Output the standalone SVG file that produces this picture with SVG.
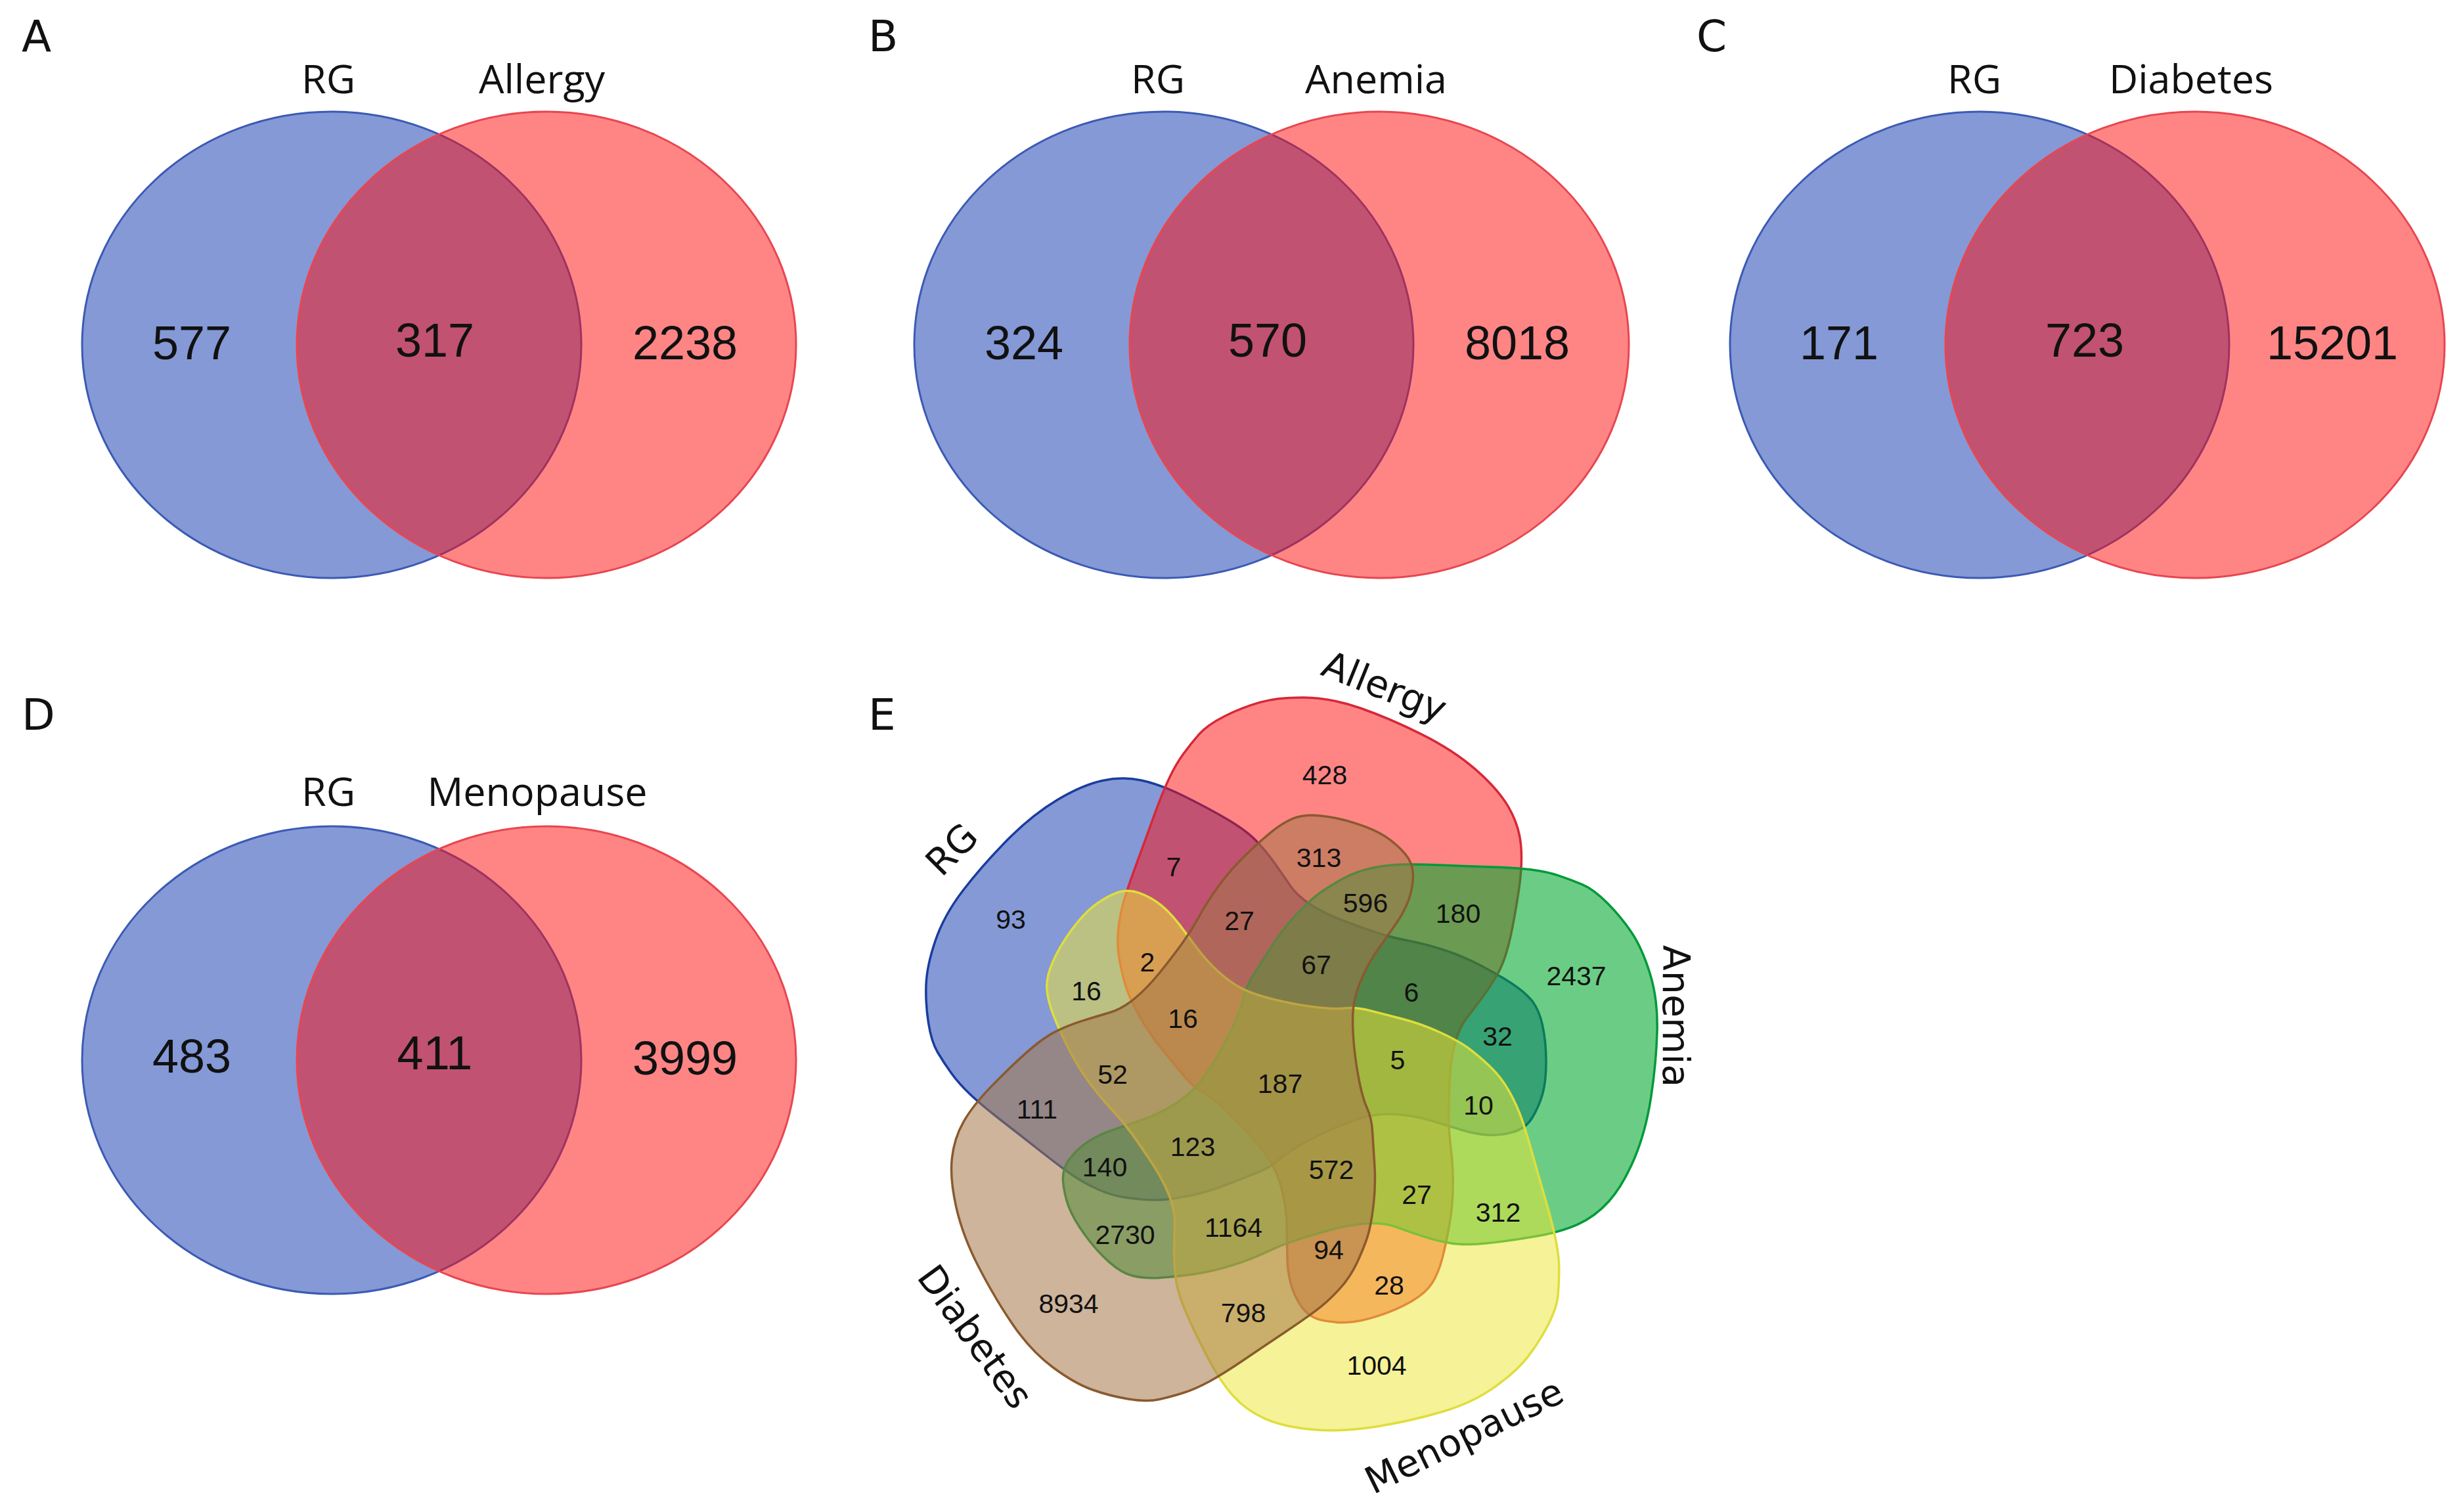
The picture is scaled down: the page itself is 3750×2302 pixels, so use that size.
<svg xmlns="http://www.w3.org/2000/svg" xmlns:xlink="http://www.w3.org/1999/xlink" width="3750" height="2302" viewBox="0 0 3750 2302">
<style>
.pl{font-family:"DejaVu Sans",Verdana,sans-serif;font-size:66px;fill:#111}
.lbl{font-family:"Open Sans","Liberation Sans",sans-serif;font-size:61px;fill:#111;text-anchor:middle}
.num{font-family:"Liberation Sans",Arial,sans-serif;font-size:72px;fill:#111;text-anchor:middle}
.elbl{font-family:"DejaVu Sans",Verdana,sans-serif;font-size:57px;fill:#111;text-anchor:middle}
.enum{font-family:"Liberation Sans",Arial,sans-serif;font-size:41px;fill:#111;text-anchor:middle}
.eb{fill:rgb(9,51,173);fill-opacity:.5;stroke:rgb(60,90,180);stroke-width:3}
.er{fill:rgb(255,11,11);fill-opacity:.5;stroke:rgb(232,70,80);stroke-width:3}
.sRG{fill:rgb(9,51,173);fill-opacity:.5;stroke:#1a3d9e;stroke-width:3.5}
.sAL{fill:rgb(255,11,11);fill-opacity:.5;stroke:#d62839;stroke-width:3.5}
.sAN{fill:rgb(0,168,45);fill-opacity:.58;stroke:#009a3a;stroke-width:3.5}
.sME{fill:rgb(236,230,55);fill-opacity:.52;stroke:#dede3c;stroke-width:3.5}
.sDI{fill:rgb(164,119,73);fill-opacity:.55;stroke:#8a5a2e;stroke-width:3.5}
</style>
<defs>
<path id="shape" d="M 1678.5 1188.5 Q 1709 1182 1737.5 1188 Q 1766 1194 1802.5 1212 Q 1839 1230 1868 1247 Q 1897 1264 1912 1279.5 Q 1927 1295 1940.5 1314 Q 1954 1333 1964.5 1348.5 Q 1975 1364 1996 1377.5 Q 2017 1391 2046 1402 Q 2075 1413 2098 1420.5 Q 2121 1428 2145.5 1432.5 Q 2170 1437 2199 1446.5 Q 2228 1456 2254.5 1470 Q 2281 1484 2300.5 1496.5 Q 2320 1509 2331.5 1522.5 Q 2343 1536 2348.5 1561 Q 2354 1586 2354 1616.5 Q 2354 1647 2348.5 1666 Q 2343 1685 2333 1701.5 Q 2323 1718 2304 1723.5 Q 2285 1729 2266 1728 Q 2247 1727 2226 1720.5 Q 2205 1714 2182 1707 Q 2159 1700 2136 1697.5 Q 2113 1695 2094 1697.5 Q 2075 1700 2046 1711.5 Q 2017 1723 1988.5 1738.5 Q 1960 1754 1947.5 1765.5 Q 1935 1777 1916 1784.5 Q 1897 1792 1868 1803.5 Q 1839 1815 1808.5 1821 Q 1778 1827 1760.5 1827 Q 1743 1827 1718.5 1824 Q 1694 1821 1671 1810.5 Q 1648 1800 1629 1786.5 Q 1610 1773 1581.5 1750.5 Q 1553 1728 1524 1705.5 Q 1495 1683 1477.5 1666.5 Q 1460 1650 1448.5 1634 Q 1437 1618 1427.5 1602 Q 1418 1586 1413.5 1557 Q 1409 1528 1410 1499.5 Q 1411 1471 1424 1432.5 Q 1437 1394 1466 1356 Q 1495 1318 1533 1279.5 Q 1571 1241 1609.5 1218 Q 1648 1195 1678.5 1188.5 Z"/>
</defs>
<rect width="3750" height="2302" fill="#fff"/>

<g id="panelA">
<text class="pl" x="33" y="78">A</text>
<g id="A-RG"><ellipse class="eb" cx="505" cy="525" rx="380" ry="355"/><text class="lbl" x="500" y="142">RG</text></g>
<g id="A-Allergy"><ellipse class="er" cx="832" cy="525" rx="380" ry="355"/><text class="lbl" x="825" y="142">Allergy</text></g>
<text class="num" x="292" y="547">577</text>
<text class="num" x="662" y="543">317</text>
<text class="num" x="1043" y="547">2238</text>
</g>

<g id="panelB">
<text class="pl" x="1322" y="78">B</text>
<g id="B-RG"><ellipse class="eb" cx="1772" cy="525" rx="380" ry="355"/><text class="lbl" x="1763" y="142">RG</text></g>
<g id="B-Anemia"><ellipse class="er" cx="2100" cy="525" rx="380" ry="355"/><text class="lbl" x="2095" y="142">Anemia</text></g>
<text class="num" x="1559" y="547">324</text>
<text class="num" x="1930" y="543">570</text>
<text class="num" x="2310" y="547">8018</text>
</g>

<g id="panelC">
<text class="pl" x="2583" y="78">C</text>
<g id="C-RG"><ellipse class="eb" cx="3014" cy="525" rx="380" ry="355"/><text class="lbl" x="3006" y="142">RG</text></g>
<g id="C-Diabetes"><ellipse class="er" cx="3342" cy="525" rx="380" ry="355"/><text class="lbl" x="3336" y="142">Diabetes</text></g>
<text class="num" x="2800" y="547">171</text>
<text class="num" x="3174" y="543">723</text>
<text class="num" x="3551" y="547">15201</text>
</g>

<g id="panelD">
<text class="pl" x="33" y="1111">D</text>
<g id="D-RG"><ellipse class="eb" cx="505" cy="1614" rx="380" ry="356"/><text class="lbl" x="500" y="1227">RG</text></g>
<g id="D-Menopause"><ellipse class="er" cx="832" cy="1614" rx="380" ry="356"/><text class="lbl" x="818" y="1227">Menopause</text></g>
<text class="num" x="292" y="1633">483</text>
<text class="num" x="662" y="1628">411</text>
<text class="num" x="1043" y="1636">3999</text>
</g>

<g id="panelE">
<text class="pl" x="1322" y="1111">E</text>
<g id="E-RG"><use xlink:href="#shape" class="sRG"/><text class="elbl" transform="translate(1449,1293) rotate(-45)" y="20">RG</text></g>
<g id="E-Allergy"><use xlink:href="#shape" class="sAL" transform="rotate(72 1960 1634)"/><text class="elbl" transform="translate(2108,1045) rotate(22)" y="20">Allergy</text></g>
<g id="E-Anemia"><use xlink:href="#shape" class="sAN" transform="rotate(144 1960 1634)"/><text class="elbl" transform="translate(2552,1547) rotate(90)" y="20">Anemia</text></g>
<g id="E-Menopause"><use xlink:href="#shape" class="sME" transform="rotate(216 1960 1634)"/><text class="elbl" transform="translate(2229,2186) rotate(-26)" y="20">Menopause</text></g>
<g id="E-Diabetes"><use xlink:href="#shape" class="sDI" transform="rotate(288 1960 1634)"/><text class="elbl" transform="translate(1485,2035) rotate(54)" y="20">Diabetes</text></g>
<g id="E-counts">
<text class="enum" x="1539" y="1414">93</text>
<text class="enum" x="1787" y="1334">7</text>
<text class="enum" x="1887" y="1416">27</text>
<text class="enum" x="1747" y="1479">2</text>
<text class="enum" x="1654" y="1523">16</text>
<text class="enum" x="1801" y="1565">16</text>
<text class="enum" x="1694" y="1650">52</text>
<text class="enum" x="2017" y="1194">428</text>
<text class="enum" x="2008" y="1320">313</text>
<text class="enum" x="2079" y="1389">596</text>
<text class="enum" x="2220" y="1405">180</text>
<text class="enum" x="2004" y="1483">67</text>
<text class="enum" x="2149" y="1525">6</text>
<text class="enum" x="2400" y="1500">2437</text>
<text class="enum" x="2280" y="1592">32</text>
<text class="enum" x="2128" y="1628">5</text>
<text class="enum" x="1949" y="1664">187</text>
<text class="enum" x="2251" y="1697">10</text>
<text class="enum" x="1579" y="1703">111</text>
<text class="enum" x="1682" y="1791">140</text>
<text class="enum" x="1816" y="1760">123</text>
<text class="enum" x="2027" y="1795">572</text>
<text class="enum" x="2157" y="1833">27</text>
<text class="enum" x="2281" y="1860">312</text>
<text class="enum" x="1713" y="1894">2730</text>
<text class="enum" x="1878" y="1883">1164</text>
<text class="enum" x="2023" y="1917">94</text>
<text class="enum" x="2115" y="1971">28</text>
<text class="enum" x="1627" y="1999">8934</text>
<text class="enum" x="1893" y="2013">798</text>
<text class="enum" x="2096" y="2093">1004</text>
</g>
</g>
</svg>
